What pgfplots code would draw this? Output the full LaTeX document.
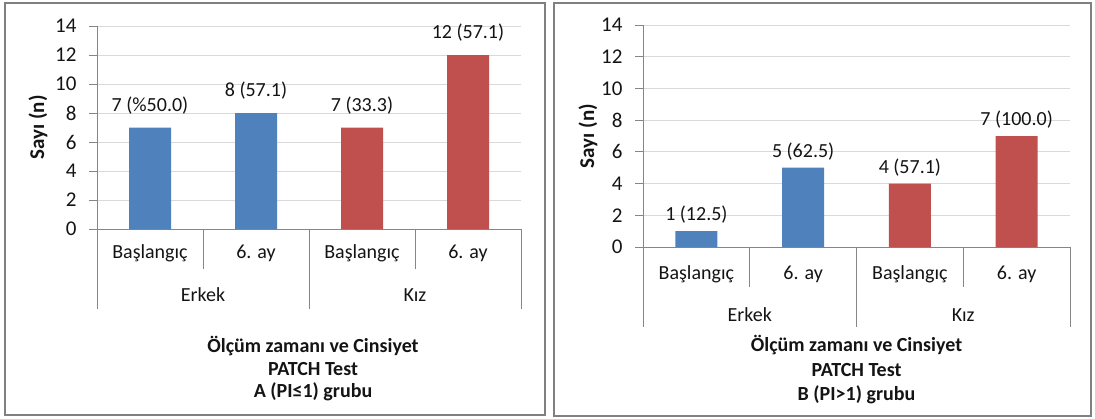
\documentclass[border=0pt]{standalone}
\usepackage{pgfplots}
\pgfplotsset{compat=1.18}
\usetikzlibrary{calc}
\usepackage{fontspec}
\setmainfont{Carlito}
\definecolor{barblue}{RGB}{79,129,189}
\definecolor{barred}{RGB}{192,80,77}
\definecolor{gridc}{RGB}{217,217,217}
\definecolor{axc}{RGB}{134,134,134}
\definecolor{framec}{RGB}{128,128,128}
\definecolor{txt}{RGB}{20,20,20}

\pgfplotsset{
 panel/.style={
  scale only axis, anchor=south west,
  ymin=0, ymax=14, ytick={0,2,...,14},
  xmin=-0.5, xmax=3.5, xtick=\empty,
  axis x line*=bottom, axis y line*=left,
  axis line style={axc, line width=0.8pt, -},
  ymajorgrids, grid style={gridc, line width=0.8pt},
  major tick length=8pt, tick align=outside, ytick style={axc, line width=0.8pt},
  yticklabel style={font=\fontsize{21}{21}\selectfont, text=txt, xshift=-9pt},
  /pgf/number format/assume math mode=true,
  clip=false,
  ybar, bar width=42pt, bar shift=0pt,
  nodes near coords, point meta=explicit symbolic,
  every node near coord/.append style={font=\fontsize{20}{20}\selectfont, text=txt},
 },
}
\tikzset{
 sep/.style={axc, line width=0.8pt},
 catf/.style={font=\fontsize{20}{20}\selectfont, text=txt},
}

\begin{document}
\begin{tikzpicture}
\useasboundingbox (0pt,0pt) rectangle (1095pt,418pt);
\draw[framec, line width=1.6pt] (5pt,3pt) rectangle (545pt,415pt);
\draw[framec, line width=1.6pt] (554pt,2pt) rectangle (1091pt,415pt);

% Left panel
\begin{axis}[panel, at={(97pt,189pt)}, width=424pt, height=203pt,
  every node near coord/.append style={yshift=10pt}]
\addplot[fill=barblue, draw=none] coordinates {(0,7) [7 (\%50.0)] (1,8) [8 (57.1)]};
\addplot[fill=barred, draw=none] coordinates {(2,7) [7 (33.3)] (3,12) [12 (57.1)]};
\draw[sep] (axis cs:0.5,0) -- ++(0pt,-40pt);
\draw[sep] (axis cs:2.5,0) -- ++(0pt,-40pt);
\draw[sep] (axis cs:-0.5,0) -- ++(0pt,-80pt);
\draw[sep] (axis cs:1.5,0) -- ++(0pt,-80pt);
\draw[sep] (axis cs:3.5,0) -- ++(0pt,-80pt);
\node[catf] at (axis cs:0,0) [yshift=-24pt] {Başlangıç};
\node[catf] at (axis cs:1,0) [yshift=-24pt] {6. ay};
\node[catf] at (axis cs:2,0) [yshift=-24pt] {Başlangıç};
\node[catf] at (axis cs:3,0) [yshift=-24pt] {6. ay};
\node[catf] at (axis cs:0.5,0) [yshift=-66pt] {Erkek};
\node[catf] at (axis cs:2.5,0) [yshift=-66pt] {Kız};
\node[align=center, font=\bfseries\fontsize{20}{22.5}\selectfont, text=txt] at (axis cs:1.5,0) [xshift=4pt, yshift=-140pt] {Ölçüm zamanı ve Cinsiyet\\PATCH Test\\A (PI≤1) grubu};
\node[rotate=90, font=\bfseries\fontsize{21}{21}\selectfont, text=txt] at ($(axis description cs:0,0.5)+(-59pt,0pt)$) {Sayı (n)};
\end{axis}

% Right panel
\begin{axis}[panel, at={(643pt,171pt)}, width=427pt, height=222pt,
  every node near coord/.append style={yshift=4pt}]
\addplot[fill=barblue, draw=none] coordinates {(0,1) [1 (12.5)] (1,5) [5 (62.5)]};
\addplot[fill=barred, draw=none] coordinates {(2,4) [4 (57.1)] (3,7) [7 (100.0)]};
\draw[sep] (axis cs:0.5,0) -- ++(0pt,-40pt);
\draw[sep] (axis cs:2.5,0) -- ++(0pt,-40pt);
\draw[sep] (axis cs:-0.5,0) -- ++(0pt,-80pt);
\draw[sep] (axis cs:1.5,0) -- ++(0pt,-80pt);
\draw[sep] (axis cs:3.5,0) -- ++(0pt,-80pt);
\node[catf] at (axis cs:0,0) [yshift=-27pt] {Başlangıç};
\node[catf] at (axis cs:1,0) [yshift=-27pt] {6. ay};
\node[catf] at (axis cs:2,0) [yshift=-27pt] {Başlangıç};
\node[catf] at (axis cs:3,0) [yshift=-27pt] {6. ay};
\node[catf] at (axis cs:0.5,0) [yshift=-68pt] {Erkek};
\node[catf] at (axis cs:2.5,0) [yshift=-68pt] {Kız};
\node[align=center, font=\bfseries\fontsize{20}{24.5}\selectfont, text=txt] at (axis cs:1.5,0) [yshift=-123pt] {Ölçüm zamanı ve Cinsiyet\\PATCH Test\\B (PI>1) grubu};
\node[rotate=90, font=\bfseries\fontsize{21}{21}\selectfont, text=txt] at ($(axis description cs:0,0.5)+(-55pt,0pt)$) {Sayı (n)};
\end{axis}
\end{tikzpicture}
\end{document}
